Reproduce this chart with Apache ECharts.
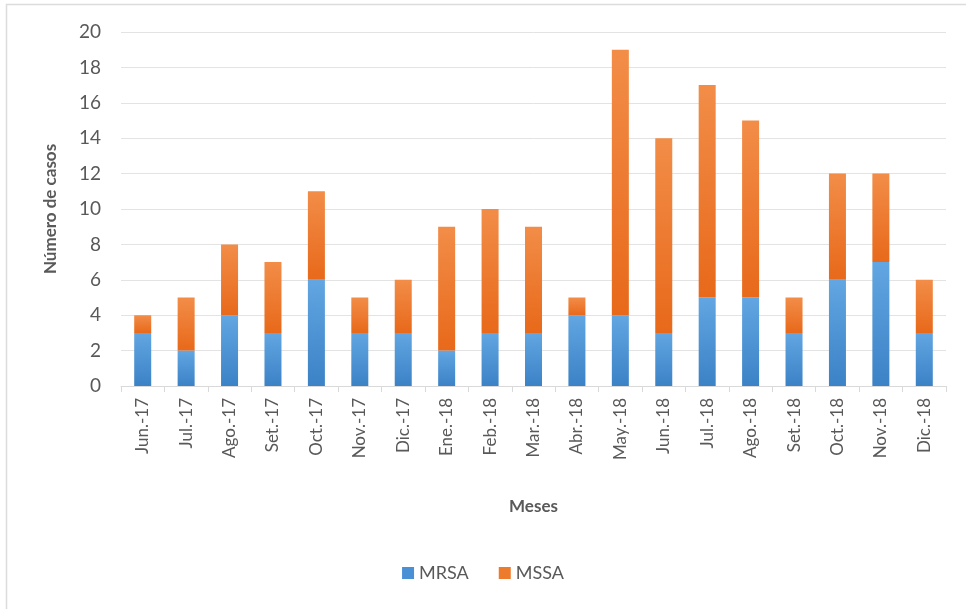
<!DOCTYPE html>
<html>
<head>
<meta charset="utf-8">
<script src="https://cdn.jsdelivr.net/npm/echarts@6/dist/echarts.min.js"></script>
<style>
  html, body { margin: 0; padding: 0; background: #fff; }
  #main { width: 966px; height: 609px; }
</style>
</head>
<body>
<div id="main"></div>
<script>
// datos
var meses = ['Jun.-17', 'Jul.-17', 'Ago.-17', 'Set.-17', 'Oct.-17', 'Nov.-17', 'Dic.-17',
  'Ene.-18', 'Feb.-18', 'Mar.-18', 'Abr.-18', 'May.-18', 'Jun.-18', 'Jul.-18',
  'Ago.-18', 'Set.-18', 'Oct.-18', 'Nov.-18', 'Dic.-18'];
var mrsa = [3, 2, 4, 3, 6, 3, 3, 2, 3, 3, 4, 4, 3, 5, 5, 3, 6, 7, 3];
var mssa = [1, 3, 4, 4, 5, 2, 3, 7, 7, 6, 1, 15, 11, 12, 10, 2, 6, 5, 3];

var chart = echarts.init(document.getElementById('main'));

function grad(top, bottom) {
  return new echarts.graphic.LinearGradient(0, 0, 0, 1, [
    { offset: 0, color: top },
    { offset: 1, color: bottom }
  ]);
}

var option = {
  backgroundColor: '#fff',
  textStyle: { fontFamily: 'Lato' },
  graphic: [{
    type: 'rect',
    shape: { x: 6.5, y: 4.5, width: 970, height: 620 },
    style: { fill: 'none', stroke: '#dcdcdc', lineWidth: 1.5 },
    silent: true
  }],
  legend: {
    bottom: 22,
    left: 'center',
    itemWidth: 12,
    itemHeight: 12,
    itemGap: 30,
    icon: 'rect',
    textStyle: { color: '#595959', fontSize: 18, fontFamily: 'Lato' },
    data: [
      { name: 'MRSA', itemStyle: { color: '#4a90d4' } },
      { name: 'MSSA', itemStyle: { color: '#ee7a2c' } }
    ]
  },
  grid: { left: 121, right: 20, top: 32, bottom: 223 },
  xAxis: {
    type: 'category',
    data: meses,
    name: 'Meses',
    nameLocation: 'middle',
    nameGap: 112,
    nameTextStyle: { color: '#595959', fontSize: 17, fontWeight: 'bold' },
    axisLine: { lineStyle: { color: '#d9d9d9' } },
    axisTick: { show: true, length: 6, lineStyle: { color: '#d9d9d9' } },
    axisLabel: { rotate: 90, color: '#595959', fontSize: 17, margin: 12 }
  },
  yAxis: {
    type: 'value',
    min: 0,
    max: 20,
    interval: 2,
    name: 'Número de casos',
    nameLocation: 'middle',
    nameGap: 62,
    nameTextStyle: { color: '#595959', fontSize: 17, fontWeight: 'bold' },
    axisLine: { show: false },
    axisTick: { show: false },
    axisLabel: { color: '#595959', fontSize: 19, margin: 20 },
    splitLine: { lineStyle: { color: '#e3e3e3' } }
  },
  series: [{
    name: 'MRSA',
    type: 'bar',
    stack: 'total',
    barWidth: 17,
    data: mrsa,
    itemStyle: { color: grad('#62a6e2', '#3b82c6') }
  }, {
    name: 'MSSA',
    type: 'bar',
    stack: 'total',
    barWidth: 17,
    data: mssa,
    itemStyle: { color: grad('#f28d48', '#e8691a') }
  }]
};

chart.setOption(option);
</script>
</body>
</html>
